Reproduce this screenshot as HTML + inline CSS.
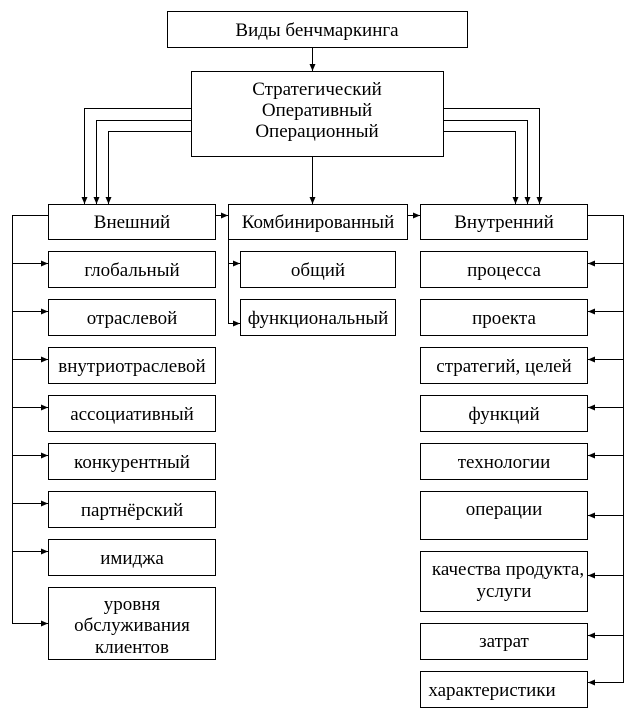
<!DOCTYPE html>
<html><head><meta charset="utf-8"><style>
body{margin:0;background:#fff;}
svg text{font-family:"Liberation Serif","DejaVu Serif",serif;font-size:19px;fill:#000;text-anchor:middle;}
</style></head><body>
<svg width="636" height="711" xmlns="http://www.w3.org/2000/svg">
<defs><marker id="a" markerWidth="8" markerHeight="8" refX="7" refY="4" orient="auto" markerUnits="userSpaceOnUse"><path d="M0,1 L7,4 L0,7z" fill="#000"/></marker></defs>
<g fill="none" stroke="#000" stroke-width="1">
<rect x="167.5" y="11.5" width="300" height="36"/>
<rect x="191.5" y="71.5" width="252" height="85"/>
<rect x="48.5" y="204.5" width="167" height="35"/>
<rect x="228.5" y="204.5" width="179" height="35"/>
<rect x="420.5" y="204.5" width="167" height="35"/>
<rect x="240.5" y="251.5" width="155" height="36"/>
<rect x="240.5" y="299.5" width="155" height="36"/>
<rect x="48.5" y="251.5" width="167" height="36"/>
<rect x="48.5" y="299.5" width="167" height="36"/>
<rect x="48.5" y="347.5" width="167" height="36"/>
<rect x="48.5" y="395.5" width="167" height="36"/>
<rect x="48.5" y="443.5" width="167" height="36"/>
<rect x="48.5" y="491.5" width="167" height="36"/>
<rect x="48.5" y="539.5" width="167" height="36"/>
<rect x="48.5" y="587.5" width="167" height="72"/>
<rect x="420.5" y="251.5" width="167" height="36"/>
<rect x="420.5" y="299.5" width="167" height="36"/>
<rect x="420.5" y="347.5" width="167" height="36"/>
<rect x="420.5" y="395.5" width="167" height="36"/>
<rect x="420.5" y="443.5" width="167" height="36"/>
<rect x="420.5" y="491.5" width="167" height="48"/>
<rect x="420.5" y="551.5" width="167" height="60"/>
<rect x="420.5" y="623.5" width="167" height="36"/>
<rect x="420.5" y="671.5" width="167" height="36"/>
<g marker-end="url(#a)">
<path d="M312.5 47.5V71"/>
<path d="M191.5 108.5H84.5V204"/>
<path d="M191.5 120.5H96.5V204"/>
<path d="M191.5 131.5H108.5V204"/>
<path d="M443.5 108.5H539.5V204"/>
<path d="M443.5 120.5H527.5V204"/>
<path d="M443.5 131.5H515.5V204"/>
<path d="M312.5 156.5V204"/>
<path d="M215.5 215.5H228"/>
<path d="M407.5 215.5H420"/>
<path d="M228.5 263.5H240"/>
<path d="M228.5 239.5V323.5H240"/>
<path d="M12.5 263.5H48"/><path d="M12.5 311.5H48"/><path d="M12.5 359.5H48"/><path d="M12.5 407.5H48"/>
<path d="M12.5 455.5H48"/><path d="M12.5 503.5H48"/><path d="M12.5 551.5H48"/>
<path d="M48.5 215.5H12.5V623.5H48"/>
<path d="M623.5 263.5H588"/><path d="M623.5 311.5H588"/><path d="M623.5 359.5H588"/><path d="M623.5 407.5H588"/>
<path d="M623.5 455.5H588"/><path d="M623.5 515.5H588"/><path d="M623.5 575.5H588"/><path d="M623.5 635.5H588"/>
<path d="M587.5 215.5H623.5V682.5H588"/>
</g>
</g>
<text x="317" y="36">Виды бенчмаркинга</text>
<text x="317" y="95">Стратегический</text>
<text x="317" y="116">Оперативный</text>
<text x="317" y="137">Операционный</text>
<text x="132" y="228">Внешний</text>
<text x="318" y="228">Комбинированный</text>
<text x="504" y="228">Внутренний</text>
<text x="318" y="276">общий</text>
<text x="318" y="324">функциональный</text>
<text x="132" y="276">глобальный</text>
<text x="132" y="324">отраслевой</text>
<text x="132" y="372">внутриотраслевой</text>
<text x="132" y="420">ассоциативный</text>
<text x="132" y="468">конкурентный</text>
<text x="132" y="516">партнёрский</text>
<text x="132" y="564">имиджа</text>
<text x="132" y="610">уровня</text>
<text x="132" y="631">обслуживания</text>
<text x="132" y="653">клиентов</text>
<text x="504" y="276">процесса</text>
<text x="504" y="324">проекта</text>
<text x="504" y="372">стратегий, целей</text>
<text x="504" y="420">функций</text>
<text x="504" y="468">технологии</text>
<text x="504" y="515">операции</text>
<text x="508" y="575">качества продукта,</text>
<text x="504" y="597">услуги</text>
<text x="504" y="647">затрат</text>
<text x="492" y="696">характеристики</text>
</svg>
</body></html>
